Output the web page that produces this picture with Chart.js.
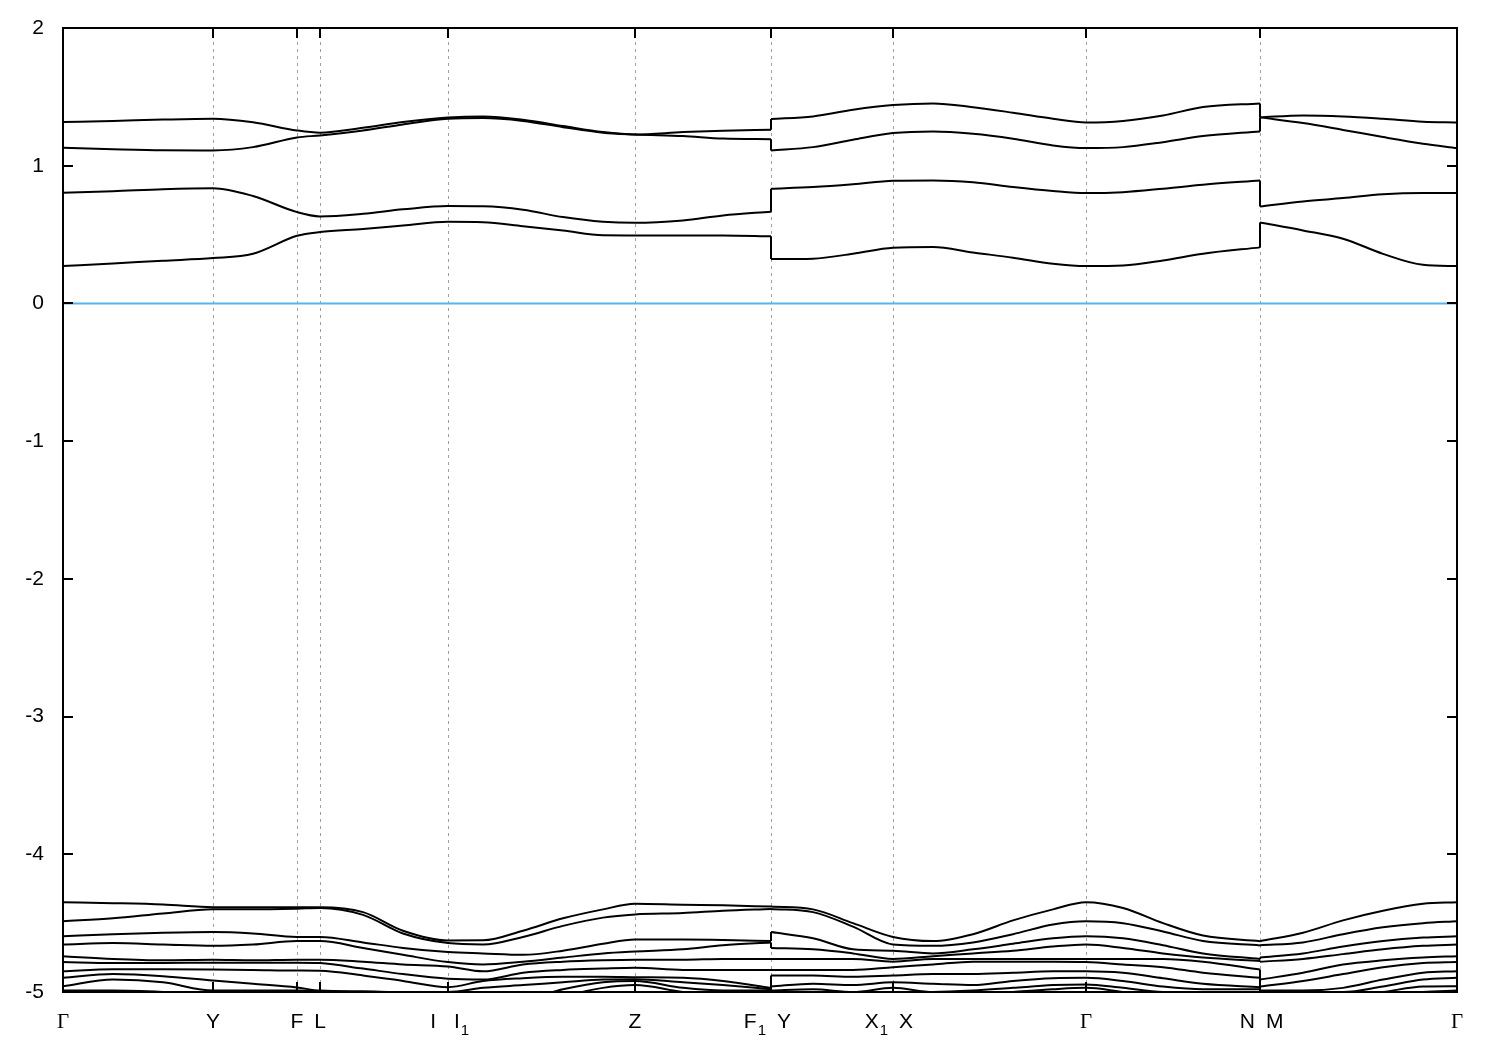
<!DOCTYPE html>
<html lang="en">
<head>
<meta charset="utf-8" />
<title>band structure</title>
<script src="https://cdn.jsdelivr.net/npm/chart.js@4.4.9/dist/chart.umd.min.js"></script>
</head>
<body style="margin: 0; padding: 0; background: #fff">
<canvas id="bands" width="1500" height="1050" style="display: block"></canvas>
<script>
// k-path coordinates (duplicated points at the F1|Y and N|M jumps)
const kPath = [0, 0.5, 1.0, 1.5, 1.9, 2.34, 2.57, 3.0, 3.4, 3.85, 4.2, 4.6, 5.0, 5.4, 5.72,
  6.2, 6.6, 7.08, 7.08, 7.5, 7.9, 8.3, 8.7, 9.1, 9.5, 9.9, 10.23, 10.6, 11.0, 11.4, 11.97,
  11.97, 12.4, 12.8, 13.2, 13.6, 13.94];

const kTicks = [0, 1.5, 2.34, 2.57, 3.85, 5.72, 7.08, 8.3, 10.23, 11.97, 13.94];
const kLabels = [["Γ"], ["Y"], ["F"], ["L"], ["I", "I_1"], ["Z"], ["F_1", "Y"], ["X_1", "X"], ["Γ"], ["N", "M"], ["Γ"]];
const energyTicks = [-5, -4, -3, -2, -1, 0, 1, 2];
const fermiLevel = 0;

// conduction bands (eV)
const c1 = [1.317, 1.325, 1.335, 1.341, 1.315, 1.256, 1.240, 1.275, 1.317, 1.350, 1.358, 1.334, 1.288, 1.244, 1.227,
  1.244, 1.254, 1.261, 1.339, 1.358, 1.406, 1.440, 1.452, 1.425, 1.385, 1.341, 1.314, 1.325, 1.365, 1.426, 1.452,
  1.351, 1.365, 1.358, 1.341, 1.320, 1.314];
const c2 = [1.131, 1.120, 1.112, 1.111, 1.135, 1.205, 1.220, 1.256, 1.300, 1.341, 1.346, 1.325, 1.280, 1.240, 1.227,
  1.215, 1.197, 1.193, 1.111, 1.135, 1.189, 1.237, 1.249, 1.232, 1.196, 1.147, 1.128, 1.135, 1.171, 1.215, 1.249,
  1.351, 1.310, 1.260, 1.208, 1.160, 1.128];
const c3 = [0.804, 0.815, 0.830, 0.837, 0.780, 0.663, 0.632, 0.651, 0.683, 0.707, 0.705, 0.680, 0.627, 0.593, 0.585,
  0.603, 0.639, 0.666, 0.833, 0.845, 0.865, 0.890, 0.893, 0.880, 0.845, 0.816, 0.801, 0.808, 0.833, 0.862, 0.893,
  0.704, 0.741, 0.765, 0.792, 0.801, 0.801];
const c4 = [0.271, 0.290, 0.310, 0.329, 0.361, 0.491, 0.518, 0.540, 0.565, 0.593, 0.590, 0.561, 0.530, 0.495, 0.494,
  0.494, 0.494, 0.487, 0.322, 0.325, 0.361, 0.405, 0.410, 0.370, 0.332, 0.288, 0.271, 0.276, 0.312, 0.361, 0.407,
  0.588, 0.530, 0.470, 0.360, 0.280, 0.271];

// valence bands (eV)
const v1 = [-4.348, -4.355, -4.365, -4.384, -4.385, -4.385, -4.385, -4.420, -4.555, -4.626, -4.625, -4.555, -4.465, -4.400, -4.359,
  -4.366, -4.370, -4.380, -4.380, -4.400, -4.500, -4.600, -4.630, -4.580, -4.480, -4.400, -4.348, -4.390, -4.500, -4.590, -4.631,
  -4.631, -4.570, -4.480, -4.410, -4.360, -4.348];
const v2 = [-4.486, -4.465, -4.430, -4.400, -4.400, -4.395, -4.390, -4.440, -4.575, -4.645, -4.655, -4.600, -4.520, -4.460, -4.437,
  -4.427, -4.410, -4.397, -4.397, -4.420, -4.525, -4.655, -4.665, -4.640, -4.580, -4.510, -4.486, -4.500, -4.560, -4.630, -4.662,
  -4.660, -4.640, -4.580, -4.530, -4.500, -4.486];
const v3 = [-4.595, -4.580, -4.570, -4.565, -4.575, -4.600, -4.600, -4.640, -4.680, -4.710, -4.720, -4.730, -4.700, -4.650, -4.619,
  -4.619, -4.622, -4.630, -4.565, -4.610, -4.690, -4.700, -4.720, -4.690, -4.650, -4.610, -4.595, -4.610, -4.660, -4.720, -4.760,
  -4.750, -4.720, -4.670, -4.630, -4.605, -4.595];
const v4 = [-4.655, -4.645, -4.655, -4.665, -4.655, -4.630, -4.630, -4.680, -4.730, -4.783, -4.800, -4.780, -4.750, -4.720, -4.706,
  -4.690, -4.660, -4.640, -4.680, -4.690, -4.720, -4.760, -4.740, -4.720, -4.700, -4.670, -4.655, -4.680, -4.720, -4.750, -4.775,
  -4.780, -4.760, -4.725, -4.690, -4.665, -4.655];
const v5 = [-4.740, -4.760, -4.770, -4.766, -4.770, -4.765, -4.765, -4.780, -4.800, -4.815, -4.850, -4.800, -4.780, -4.770, -4.766,
  -4.766, -4.760, -4.760, -4.760, -4.760, -4.760, -4.780, -4.760, -4.760, -4.760, -4.760, -4.760, -4.760, -4.760, -4.780, -4.837,
  -4.910, -4.860, -4.800, -4.770, -4.750, -4.740];
const v6 = [-4.783, -4.790, -4.790, -4.787, -4.787, -4.787, -4.790, -4.830, -4.870, -4.904, -4.910, -4.860, -4.840, -4.830, -4.824,
  -4.840, -4.840, -4.840, -4.840, -4.840, -4.840, -4.820, -4.800, -4.780, -4.780, -4.780, -4.783, -4.800, -4.820, -4.860, -4.897,
  -4.960, -4.920, -4.870, -4.820, -4.790, -4.783];
const v7 = [-4.849, -4.835, -4.835, -4.837, -4.840, -4.844, -4.845, -4.880, -4.920, -4.965, -4.920, -4.900, -4.890, -4.890, -4.893,
  -4.897, -4.920, -4.970, -4.880, -4.880, -4.890, -4.880, -4.870, -4.870, -4.860, -4.850, -4.849, -4.860, -4.900, -4.940, -4.965,
  -4.990, -4.990, -4.970, -4.910, -4.860, -4.849];
const v8 = [-4.897, -4.870, -4.885, -4.917, -4.940, -4.967, -4.990, -4.995, -5.000, -5.000, -4.970, -4.950, -4.930, -4.910, -4.907,
  -4.930, -4.950, -4.980, -4.960, -4.940, -4.950, -4.930, -4.940, -4.950, -4.920, -4.900, -4.897, -4.920, -4.960, -4.980, -4.980,
  -5.000, -5.000, -5.000, -4.960, -4.910, -4.897];
const v9 = [-4.958, -4.910, -4.930, -4.990, -4.990, -4.990, -4.995, -5.020, -5.030, -5.030, -5.050, -5.050, -4.980, -4.930, -4.920,
  -4.970, -4.990, -4.990, -4.990, -4.980, -5.000, -4.970, -5.000, -4.990, -4.970, -4.950, -4.945, -4.970, -5.000, -5.000, -5.000,
  -5.020, -5.030, -5.030, -5.000, -4.960, -4.958];
const v10 = [-4.990, -4.990, -5.000, -5.020, -5.020, -5.020, -5.030, -5.040, -5.050, -5.050, -5.080, -5.080, -5.030, -4.970, -4.950,
  -5.000, -5.020, -5.000, -5.000, -5.020, -5.030, -5.020, -5.030, -5.020, -5.000, -4.980, -4.970, -5.000, -5.030, -5.030, -5.050,
  -5.050, -5.050, -5.050, -5.030, -5.000, -4.990];

const bands = [c1, c2, c3, c4, v1, v2, v3, v4, v5, v6, v7, v8, v9, v10];
bands.forEach((b, i) => {
  if (b.length !== kPath.length) throw new Error(`band ${i} has ${b.length} points`);
});

//

const SANS = '"Liberation Sans", Arial, sans-serif';
const SERIF = '"Liberation Serif", "Times New Roman", serif';
const LINE_W = 2;

function drawKLabelPart(ctx, text, x, y, align) {
  // "X_1" -> X with subscript 1; Γ drawn in a serif face
  const [main, sub] = text.split("_");
  const mainFont = main === "Γ" ? `21px ${SERIF}` : `21px ${SANS}`;
  const subFont = `15px ${SANS}`;
  ctx.font = mainFont;
  const wMain = ctx.measureText(main).width;
  ctx.font = subFont;
  const wSub = sub ? ctx.measureText(sub).width + 1 : 0;
  const w = wMain + wSub;
  const x0 = align === "center" ? x - w / 2 : align === "right" ? x - w : x;
  ctx.textAlign = "left";
  ctx.textBaseline = "alphabetic";
  ctx.font = mainFont;
  ctx.fillText(main, x0, y);
  if (sub) {
    ctx.font = subFont;
    ctx.fillText(sub, x0 + wMain + 1, y + 7);
  }
}

const framePlugin = {
  id: "frame",
  afterDraw(chart) {
    const { ctx, chartArea: a, scales } = chart;
    ctx.save();
    ctx.strokeStyle = "#000";
    ctx.lineWidth = 2;
    ctx.beginPath();
    for (const v of energyTicks) {
      const y = Math.round(scales.y.getPixelForValue(v));
      ctx.moveTo(a.left, y); ctx.lineTo(a.left + 10, y);
      ctx.moveTo(a.right, y); ctx.lineTo(a.right - 10, y);
    }
    for (const k of kTicks) {
      const x = Math.round(scales.x.getPixelForValue(k));
      ctx.moveTo(x, a.top); ctx.lineTo(x, a.top + 10);
      ctx.moveTo(x, a.bottom); ctx.lineTo(x, a.bottom - 10);
    }
    ctx.stroke();
    ctx.strokeRect(a.left, a.top, a.right - a.left, a.bottom - a.top);

    ctx.fillStyle = "#000";
    const yText = a.bottom + 36;
    kTicks.forEach((k, i) => {
      const x = scales.x.getPixelForValue(k);
      const parts = kLabels[i];
      if (parts.length === 1) {
        drawKLabelPart(ctx, parts[0], x, yText, "center");
      } else {
        // the "I I1" pair sits a little wider apart than the others
        const gap = parts[0] === "I" ? 12 : 5;
        drawKLabelPart(ctx, parts[0], x - gap, yText, "right");
        drawKLabelPart(ctx, parts[1], x + 6, yText, "left");
      }
    });
    ctx.restore();
  },
};

// split the path at repeated k values: smooth pieces + vertical jump segments
const pieces = [];
const jumps = [];
let start = 0;
for (let i = 1; i < kPath.length; i++) {
  if (kPath[i] === kPath[i - 1]) {
    pieces.push([start, i - 1]);
    jumps.push(i);
    start = i;
  }
}
pieces.push([start, kPath.length - 1]);

const lineStyle = { borderColor: "#000", borderWidth: LINE_W, pointRadius: 0, fill: false };
const datasets = [{
  data: [{ x: kPath[0], y: fermiLevel }, { x: kPath[kPath.length - 1], y: fermiLevel }],
  borderColor: "#56b4e9",
  borderWidth: 2,
  pointRadius: 0,
  fill: false,
}];
for (const b of bands) {
  for (const [s, e] of pieces) {
    const data = [];
    for (let i = s; i <= e; i++) data.push({ x: kPath[i], y: b[i] });
    datasets.push({ ...lineStyle, data, cubicInterpolationMode: "monotone" });
  }
  for (const j of jumps) {
    datasets.push({ ...lineStyle, data: [{ x: kPath[j - 1], y: b[j - 1] }, { x: kPath[j], y: b[j] }] });
  }
}

new Chart(document.getElementById("bands"), {
  type: "line",
  data: { datasets },
  plugins: [framePlugin],
  options: {
    responsive: false,
    devicePixelRatio: 1,
    animation: false,
    layout: { padding: { top: 28, right: 43, left: 0, bottom: 0 } },
    plugins: { legend: { display: false }, tooltip: { enabled: false } },
    scales: {
      x: {
        type: "linear",
        min: 0,
        max: kPath[kPath.length - 1],
        afterBuildTicks: (s) => { s.ticks = kTicks.map((v) => ({ value: v })); },
        afterFit: (s) => { s.height = 58; },
        grid: { display: true, drawTicks: false, color: "#a0a0a0", lineWidth: 1 },
        border: { display: false, dash: [3, 4] },
        ticks: { display: false },
      },
      y: {
        type: "linear",
        min: -5,
        max: 2,
        afterBuildTicks: (s) => { s.ticks = energyTicks.map((v) => ({ value: v })); },
        afterFit: (s) => { s.width = 63; s.paddingTop = 0; s.paddingBottom = 0; },
        grid: { display: false, drawTicks: false },
        border: { display: false },
        ticks: {
          color: "#000",
          padding: 19,
          font: { family: SANS, size: 21 },
          callback: (v) => String(v),
        },
      },
    },
  },
});
</script>
</body>
</html>
